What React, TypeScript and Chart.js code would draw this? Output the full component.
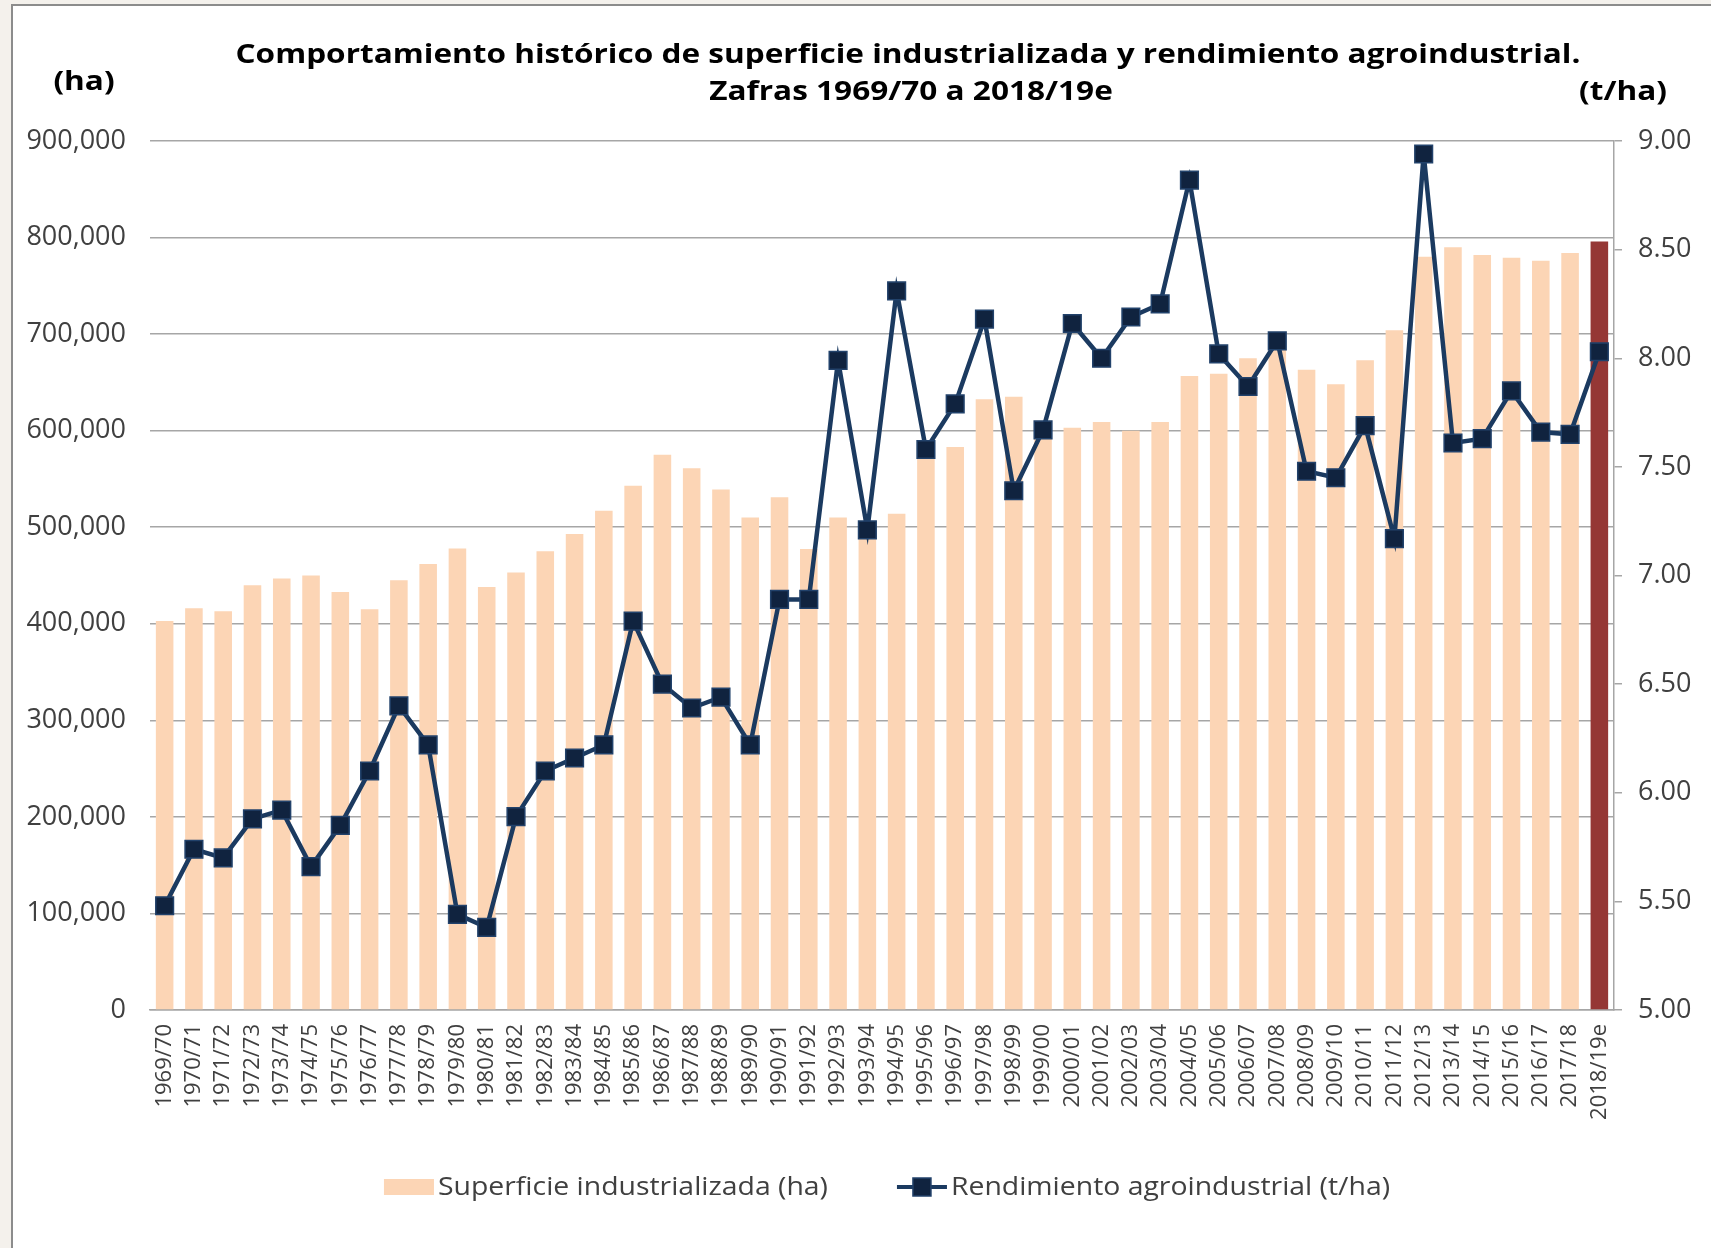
import React, { useEffect, useRef } from 'react';
import { Chart, registerables } from 'chart.js';

Chart.register(...registerables);

const categories = [
  '1969/70', '1970/71', '1971/72', '1972/73', '1973/74', '1974/75', '1975/76', '1976/77', '1977/78', '1978/79',
  '1979/80', '1980/81', '1981/82', '1982/83', '1983/84', '1984/85', '1985/86', '1986/87', '1987/88', '1988/89',
  '1989/90', '1990/91', '1991/92', '1992/93', '1993/94', '1994/95', '1995/96', '1996/97', '1997/98', '1998/99',
  '1999/00', '2000/01', '2001/02', '2002/03', '2003/04', '2004/05', '2005/06', '2006/07', '2007/08', '2008/09',
  '2009/10', '2010/11', '2011/12', '2012/13', '2013/14', '2014/15', '2015/16', '2016/17', '2017/18', '2018/19e',
];

const superficie = [
  403000, 416000, 413000, 440000, 447000, 450000, 433000, 415000, 445000, 462000,
  478000, 438000, 453000, 475000, 493000, 517000, 543000, 575000, 561000, 539000,
  510000, 531000, 477500, 510000, 498000, 514000, 580000, 583000, 632500, 635000,
  598000, 603000, 609000, 600000, 609000, 656500, 659000, 675000, 685000, 663000,
  648000, 673000, 704000, 780000, 790000, 782000, 779000, 776000, 784000, 796000,
];

const rendimiento = [
  5.48, 5.74, 5.70, 5.88, 5.92, 5.66, 5.85, 6.10, 6.40, 6.22,
  5.44, 5.38, 5.89, 6.10, 6.16, 6.22, 6.79, 6.50, 6.39, 6.44,
  6.22, 6.89, 6.89, 7.99, 7.21, 8.31, 7.58, 7.79, 8.18, 7.39,
  7.67, 8.16, 8.00, 8.19, 8.25, 8.82, 8.02, 7.87, 8.08, 7.48,
  7.45, 7.69, 7.17, 8.94, 7.61, 7.63, 7.85, 7.66, 7.65, 8.03,
];

const titleLines = [
  'Comportamiento histórico de superficie industrializada y rendimiento agroindustrial.',
  'Zafras 1969/70 a 2018/19e',
];
const leftUnit = '(ha)';
const rightUnit = '(t/ha)';
const barLabel = 'Superficie industrializada (ha)';
const lineLabel = 'Rendimiento agroindustrial (t/ha)';

const FONT = "'Open Sans', 'Noto Sans', sans-serif";
const PEACH = '#FCD5B5';
const RED = '#953735';
const LINE = '#1B3A60';
const MARK = '#10233F';
const MARK_BORDER = '#22426B';
const GRID = '#A6A6A6';
const TEXT = '#404040';

// draws text horizontally stretched by sx, anchored at x according to align
function drawStretched(
  ctx: CanvasRenderingContext2D,
  text: string,
  x: number,
  y: number,
  sx: number,
  align: 'left' | 'center',
) {
  const w = ctx.measureText(text).width * sx;
  const left = align === 'center' ? x - w / 2 : x;
  ctx.save();
  ctx.translate(left, y);
  ctx.scale(sx, 1);
  ctx.textAlign = 'left';
  ctx.fillText(text, 0, 0);
  ctx.restore();
  return w;
}

const overlayPlugin = {
  id: 'overlay',
  afterDraw(chart: any) {
    const ctx = chart.ctx as CanvasRenderingContext2D;
    const area = chart.chartArea;
    ctx.save();
    ctx.fillStyle = '#000';
    ctx.textBaseline = 'middle';
    ctx.font = `bold 27px ${FONT}`;
    const sxTitle = 1345 / ctx.measureText(titleLines[0]).width;
    drawStretched(ctx, titleLines[0], 908, 55, sxTitle, 'center');
    drawStretched(ctx, titleLines[1], 911, 92, sxTitle, 'center');
    drawStretched(ctx, leftUnit, 84, 82, sxTitle, 'center');
    drawStretched(ctx, rightUnit, 1623, 92, sxTitle, 'center');

    // legend
    ctx.font = `26px ${FONT}`;
    const sxLeg = 390 / ctx.measureText(barLabel).width;
    const sym = 50;
    const gap = 4;
    const between = 69;
    const w1 = ctx.measureText(barLabel).width * sxLeg;
    const w2 = ctx.measureText(lineLabel).width * sxLeg;
    const total = sym + gap + w1 + between + sym + gap + w2;
    let x = (area.left + area.right) / 2 + 5 - total / 2;
    const y = 1187;
    ctx.fillStyle = PEACH;
    ctx.fillRect(x, y - 8, sym, 16);
    ctx.fillStyle = TEXT;
    drawStretched(ctx, barLabel, x + sym + gap, y + 1, sxLeg, 'left');
    x += sym + gap + w1 + between;
    ctx.strokeStyle = LINE;
    ctx.lineWidth = 4;
    ctx.beginPath();
    ctx.moveTo(x, y);
    ctx.lineTo(x + sym, y);
    ctx.stroke();
    ctx.fillStyle = MARK;
    ctx.fillRect(x + sym / 2 - 9, y - 9, 18, 18);
    ctx.strokeStyle = MARK_BORDER;
    ctx.lineWidth = 1.5;
    ctx.strokeRect(x + sym / 2 - 9, y - 9, 18, 18);
    ctx.fillStyle = TEXT;
    drawStretched(ctx, lineLabel, x + sym + gap, y + 1, sxLeg, 'left');
    ctx.restore();
  },
};

export default function App() {
  const canvasRef = useRef<HTMLCanvasElement | null>(null);

  useEffect(() => {
    const canvas = canvasRef.current;
    if (!canvas) return;
    const barColors = categories.map((_, i) => (i === categories.length - 1 ? RED : PEACH));
    const chart = new Chart(canvas, {
      type: 'bar',
      data: {
        labels: categories,
        datasets: [
          {
            type: 'line',
            label: lineLabel,
            data: rendimiento,
            yAxisID: 'y1',
            borderColor: LINE,
            borderWidth: 4.5,
            pointStyle: 'rect',
            pointRadius: 12.5,
            pointBackgroundColor: MARK,
            pointBorderColor: MARK_BORDER,
            pointBorderWidth: 1.5,
            tension: 0,
            order: 0,
            clip: false,
          } as any,
          {
            type: 'bar',
            label: barLabel,
            data: superficie,
            yAxisID: 'y',
            backgroundColor: barColors,
            barPercentage: 0.6,
            categoryPercentage: 1.0,
            order: 1,
          },
        ],
      },
      options: {
        responsive: false,
        animation: false,
        devicePixelRatio: 1,
        layout: { padding: { left: 0, right: 0, top: 141, bottom: 100 } },
        plugins: {
          legend: { display: false },
          title: { display: false },
          tooltip: { enabled: false },
        },
        scales: {
          x: {
            grid: { display: false, drawTicks: false },
            border: { display: true, color: GRID, width: 1.5 },
            ticks: {
              autoSkip: false,
              minRotation: 90,
              maxRotation: 90,
              padding: 14,
              color: TEXT,
              font: { family: FONT, size: 22 },
            },
            afterFit: (s: any) => {
              s.height = 138;
            },
          },
          y: {
            position: 'left',
            min: 0,
            max: 900000,
            grid: { color: GRID, lineWidth: 1.5, drawTicks: false },
            border: { display: false },
            ticks: {
              stepSize: 100000,
              padding: 24,
              color: TEXT,
              font: { family: FONT, size: 27 },
              callback: (v: any) => Number(v).toLocaleString('en-US'),
            },
            afterFit: (s: any) => {
              s.width = 150;
            },
          },
          y1: {
            position: 'right',
            min: 5,
            max: 9,
            grid: { drawOnChartArea: false, drawTicks: true, tickLength: 8, color: GRID, lineWidth: 1.5 },
            border: { display: true, color: GRID, width: 1.5 },
            ticks: {
              stepSize: 0.5,
              padding: 16,
              color: TEXT,
              font: { family: FONT, size: 27 },
              callback: (v: any) => Number(v).toFixed(2),
            },
            afterFit: (s: any) => {
              s.width = 97;
            },
          },
        },
      },
      plugins: [overlayPlugin],
    });
    return () => chart.destroy();
  }, []);

  return (
    <div style={{ position: 'absolute', left: 0, top: 0, width: 1711, height: 1248, background: '#f4f1ec', overflow: 'hidden' }}>
      <div
        style={{
          position: 'absolute',
          left: 11,
          top: 4,
          right: 0,
          bottom: 0,
          background: '#ffffff',
          borderTop: '2px solid #8c8c8c',
          borderLeft: '2px solid #8c8c8c',
        }}
      />
      <canvas ref={canvasRef} width={1711} height={1248} style={{ position: 'absolute', left: 0, top: 0, width: 1711, height: 1248 }} />
    </div>
  );
}
